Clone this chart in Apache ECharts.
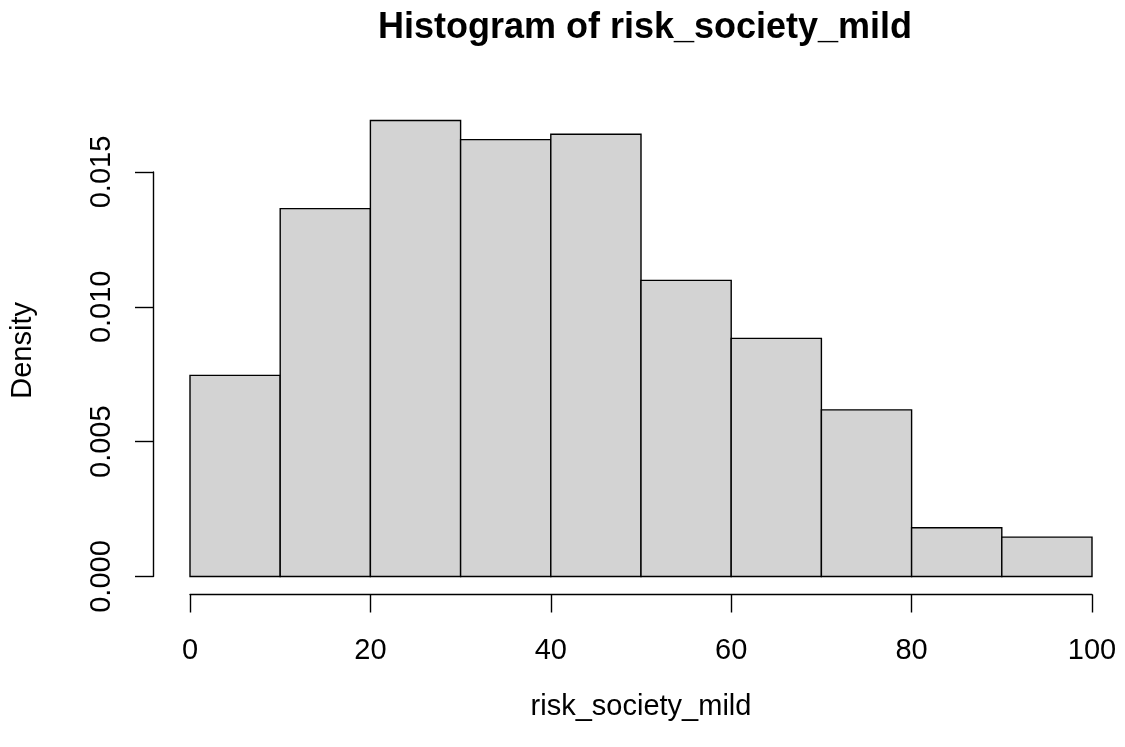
<!DOCTYPE html>
<html>
<head>
<meta charset="utf-8">
<script src="https://cdn.jsdelivr.net/npm/echarts@6/dist/echarts.min.js"></script>
<style>
  html, body { margin: 0; padding: 0; background: #ffffff; }
  #chart { width: 1125px; height: 747px; }
</style>
</head>
<body>
<div id="chart"></div>
<script>
// Histogram bins (width 10) and their densities
const binStarts = [0, 10, 20, 30, 40, 50, 60, 70, 80, 90];
const binEnds   = [10, 20, 30, 40, 50, 60, 70, 80, 90, 100];
const densities = [0.00746, 0.01364, 0.01691, 0.01620, 0.01640, 0.01098, 0.00883, 0.00618, 0.00181, 0.00146];

// Axis ticks
const xTicks = [0, 20, 40, 60, 80, 100];
const yTicks = ['0.000', '0.005', '0.010', '0.015'];

const titleText = 'Histogram of risk_society_mild';
const xName = 'risk_society_mild';
const yName = 'Density';

const FONT = '"Liberation Sans", Arial, Helvetica, sans-serif';
const AXIS_SIZE = 29;
const LINE_W = 1.4;

const chart = echarts.init(document.getElementById('chart'), null, { renderer: 'canvas' });

const bins = binStarts.map((s, i) => [s, binEnds[i], densities[i]]);

chart.setOption({
  backgroundColor: '#ffffff',
  animation: false,
  title: {
    text: titleText,
    left: 640,
    top: 5,
    textAlign: 'center',
    textStyle: { fontFamily: FONT, fontSize: 36, fontWeight: 'bold', color: '#000' }
  },
  grid: { left: 190, right: 33, top: 172, bottom: 170.5, containLabel: false },
  xAxis: {
    type: 'value',
    min: 0,
    max: 100,
    interval: 20,
    offset: 18,
    splitLine: { show: false },
    axisLine: { show: true, onZero: false, lineStyle: { color: '#000', width: LINE_W } },
    axisTick: { show: true, inside: false, length: 18, lineStyle: { color: '#000', width: LINE_W } },
    axisLabel: {
      margin: 42,
      fontFamily: FONT, fontSize: AXIS_SIZE, color: '#000',
      formatter: v => xTicks.includes(v) ? String(v) : ''
    },
    name: xName,
    nameLocation: 'middle',
    nameGap: 98,
    nameTextStyle: { fontFamily: FONT, fontSize: AXIS_SIZE, color: '#000' }
  },
  yAxis: {
    type: 'value',
    min: 0,
    max: 0.015,
    interval: 0.005,
    offset: 37,
    splitLine: { show: false },
    axisLine: { show: true, onZero: false, lineStyle: { color: '#000', width: LINE_W } },
    axisTick: { show: true, inside: false, length: 18, lineStyle: { color: '#000', width: LINE_W } },
    axisLabel: {
      rotate: 90,
      margin: 37,
      fontFamily: FONT, fontSize: AXIS_SIZE, color: '#000',
      formatter: (v) => yTicks[Math.round(v / 0.005)]
    }
  },
  graphic: [{
    type: 'text',
    left: 8,
    top: 302,
    rotation: Math.PI / 2,
    style: {
      text: yName,
      font: AXIS_SIZE + 'px ' + FONT,
      fill: '#000'
    }
  }],
  series: [{
    type: 'custom',
    clip: false,
    data: bins,
    encode: { x: [0, 1], y: 2 },
    renderItem: (params, api) => {
      const p0 = api.coord([api.value(0), 0]);
      const p1 = api.coord([api.value(1), api.value(2)]);
      return {
        type: 'rect',
        shape: { x: p0[0], y: p1[1], width: p1[0] - p0[0], height: p0[1] - p1[1] },
        style: { fill: '#D3D3D3', stroke: '#000', lineWidth: LINE_W }
      };
    }
  }]
});
</script>
</body>
</html>
